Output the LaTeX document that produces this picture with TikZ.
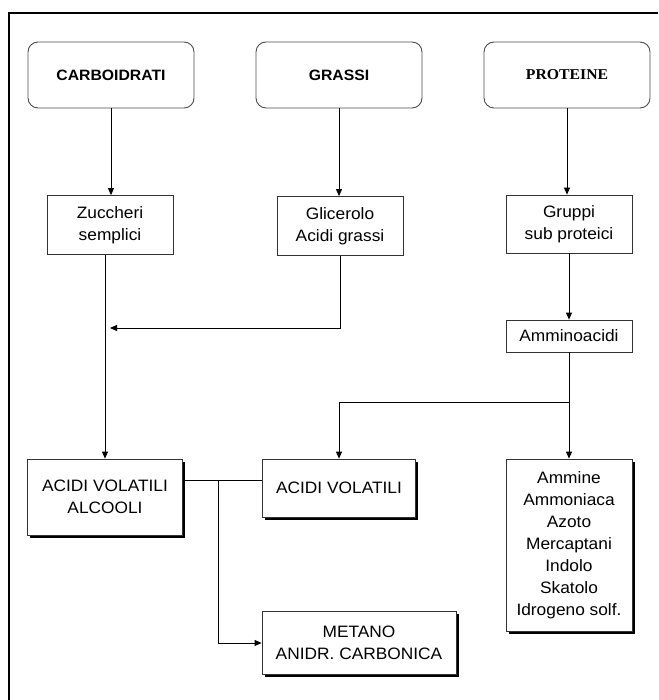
\documentclass[tikz,border=0pt]{standalone}
\usepackage{fontspec}
\setmainfont{Liberation Sans}[FakeStretch=1.05]
\newfontfamily\serifbold{Liberation Serif}[FakeStretch=1.05]
\usetikzlibrary{arrows.meta, shadows}
\tikzset{
  frame line/.style={
    draw,
    line width=1.4pt,
  },
  source box/.style={
    draw=black!70,
    line width=0.9pt,
    rounded corners=10pt,
    minimum width=166pt,
    minimum height=66pt,
    font=\fontsize{15}{18}\selectfont\bfseries,
  },
  stage box/.style={
    draw=black!80,
    line width=0.8pt,
    align=center,
    minimum width=126pt,
    minimum height=59pt,
    font=\fontsize{16.5}{22}\selectfont,
  },
  end box/.style={
    stage box,
    fill=white,
    drop shadow={shadow xshift=2.5pt, shadow yshift=-2.5pt, fill=black, opacity=1},
  },
  link/.style={
    draw,
    line width=0.8pt,
  },
  arrow link/.style={
    link,
    -{Triangle[length=7pt,width=6pt]},
  },
}

\begin{document}
\begin{tikzpicture}[x=1pt, y=-1pt]
  \useasboundingbox (0,0) rectangle (658,700);
  \draw[frame line] (9,700) -- (9,13) -- (658,13);
  % sources
  \node[source box] (carbo) at (111,75) {CARBOIDRATI};
  \node[source box] (grassi) at (339,75) {GRASSI};
  \node[source box, font=\fontsize{15}{18}\serifbold\bfseries] (prot) at (567,75) {PROTEINE};
  % first products
  \node[stage box] (zucch) at (110,225) {Zuccheri\\semplici};
  \node[stage box] (glic) at (340,226) {Glicerolo\\Acidi grassi};
  \node[stage box, minimum height=58pt] (gruppi) at (569,224) {Gruppi\\sub proteici};
  \node[stage box, minimum height=32pt] (ammino) at (569,336) {Amminoacidi};
  % end products
  \node[end box, minimum width=155pt, minimum height=76pt] (acalc) at (105,497) {ACIDI VOLATILI\\ALCOOLI};
  \node[end box, minimum width=153pt, minimum height=58pt] (acvol) at (339,488) {ACIDI VOLATILI};
  \node[end box, minimum height=172pt] (ammine) at (569,545)
    {Ammine\\Ammoniaca\\Azoto\\Mercaptani\\Indolo\\Skatolo\\Idrogeno solf.};
  \node[end box, minimum width=194pt, minimum height=63pt] (metano) at (359,643) {METANO\\ANIDR. CARBONICA};
  \coordinate (merge) at (110,328);
  \coordinate (split) at (569,402);
  \coordinate (fork) at (218,480);
  % connectors
  \draw[arrow link] (carbo.south) -- (carbo.south |- zucch.north);
  \draw[arrow link] (grassi.south) -- (grassi.south |- glic.north);
  \draw[arrow link] (prot.south) -- (prot.south |- gruppi.north);
  \draw[arrow link] (gruppi) -- (ammino);
  \draw[arrow link] (acalc.north |- zucch.south) -- (acalc.north);
  \draw[arrow link] (glic.south) |- (merge);
  \draw[link] (ammino.south) -- (split);
  \draw[arrow link] (split) -| (acvol.north);
  \draw[arrow link] (split) -- (ammine.north);
  \draw[link] (fork -| acalc.east) -- (fork -| acvol.west);
  \draw[arrow link] (fork) |- (metano.west);
\end{tikzpicture}
\end{document}
